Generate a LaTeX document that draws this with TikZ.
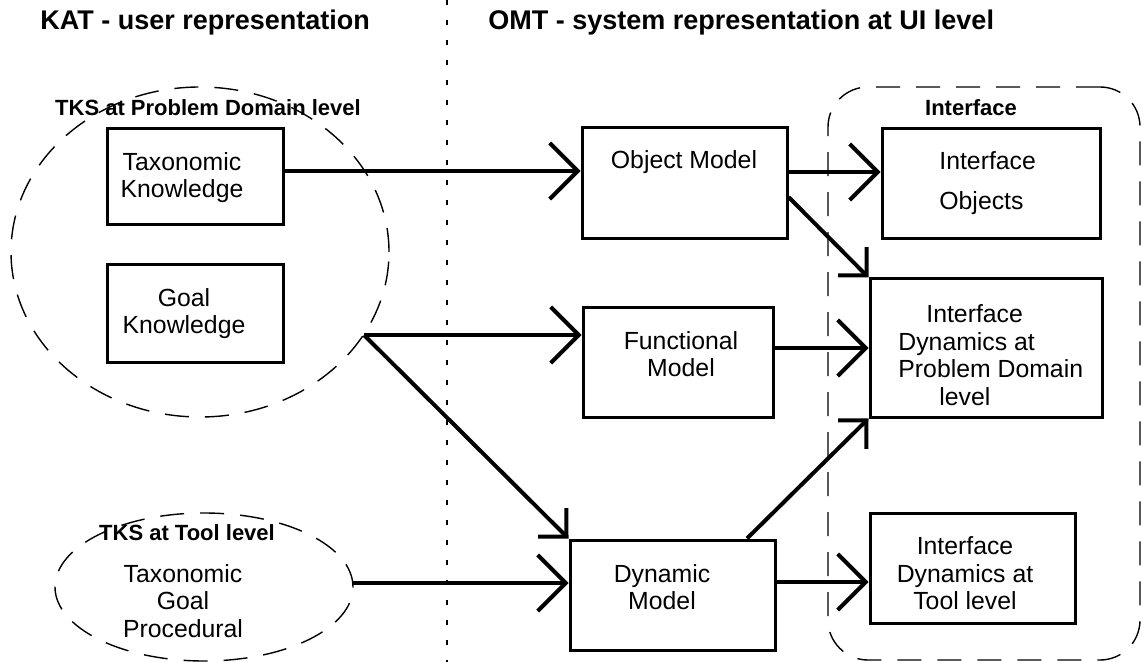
\documentclass[tikz,border=0pt]{standalone}
\usepackage{fontspec}
\setmainfont{Liberation Sans}
\usetikzlibrary{arrows.meta,shapes.geometric,fit}
\begin{document}
\begin{tikzpicture}[x=0.5pt,y=-0.5pt,
  box/.style={draw, line width=1.5pt, inner sep=0pt},
  txt/.style={font=\fontsize{12.4pt}{13.8pt}\selectfont, align=center, inner sep=0pt},
  lbl/.style={font=\bfseries\fontsize{11pt}{13pt}\selectfont, inner sep=0pt},
  ttl/.style={font=\bfseries\fontsize{13.5pt}{15pt}\selectfont, inner sep=0pt, anchor=base west},
  arr/.style={line width=2pt, -{Straight Barb[length=14pt,width=28pt]}},
  arrs/.style={line width=2pt, -{Straight Barb[length=10pt,width=20pt]}},
  dsh/.style={draw, line width=0.7pt, dash pattern=on 12pt off 8pt},
]
\useasboundingbox (0,0) rectangle (1145,662);
% titles
\node[ttl] (kat) at (40,30) {KAT - user representation};
\node[ttl] (omtitle) at (488,30) {OMT - system representation at UI level};
% separator
\coordinate (dtop) at (447,0);
\coordinate (dbot) at (447,662);
\draw[line width=0.6pt, dash pattern=on 2.5pt off 7.5pt] (dtop) -- (dbot);
% left side
\node[dsh, ellipse, minimum width=189pt, minimum height=165pt, inner sep=0pt] (pd) at (200,252) {};
\node[lbl] (pdl) at (208,108) {TKS at Problem Domain level};
\node[box, fit={(107,129) (283,225)}] (tax) {};
\node[txt] (taxt) at (182,177.5) {Taxonomic\\Knowledge};
\node[box, fit={(107,265) (283,363)}] (goal) {};
\node[txt] (goalt) at (184,313.5) {Goal\\Knowledge};
\node[dsh, ellipse, minimum width=149pt, minimum height=74pt, inner sep=0pt] (tl) at (204,587) {};
\node[lbl] (tll) at (187,533) {TKS at Tool level};
\node[txt] (tlt) at (183,601) {Taxonomic\\Goal\\Procedural};
% OMT models
\node[box, fit={(582,128) (787,239)}] (om) {};
\node[txt] (omt) at (684,162) {Object Model};
\node[box, fit={(583,308) (773,417)}] (fm) {};
\node[txt] (fmt) at (681,354) {Functional\\Model};
\node[box, fit={(570,540) (775,650)}] (dyn) {};
\node[txt] (dynt) at (662,587) {Dynamic\\Model};
% interface
\node[dsh, rounded corners=20pt, fit={(828,87) (1140,660)}, inner sep=0pt] (iface) {};
\node[lbl] (ifl) at (971,108) {Interface};
\node[box, fit={(882,129) (1100,239)}] (io) {};
\node[txt, align=left, anchor=west, font=\fontsize{12.4pt}{20pt}\selectfont] (iot) at (939,183) {Interface\\Objects};
\node[box, fit={(870,279) (1102,417)}] (idpd) {};
\node[txt, align=left, anchor=west] (idpdt) at (898,355) {\hspace*{14pt}Interface\\Dynamics at\\Problem Domain\\\hspace*{20.5pt}level};
\node[box, fit={(870,513) (1075,623)}] (idtl) {};
\node[txt] (idtlt) at (965,573.5) {Interface\\Dynamics at\\Tool level};
% connectors
\coordinate (J) at (364,335);
\coordinate (T) at (353,583);
\draw[arr] (tax.east |- 0,171) -- (om.west |- 0,171);
\draw[arr] (J) -- (fm.west |- J);
\draw[arrs] (J) -- (dyn.north west);
\draw[arr] (T) -- (dyn.west |- T);
\draw[arr] (om.east |- 0,172) -- (io.west |- 0,172);
\draw[arrs] (om.east |- 0,197) -- (idpd.north west);
\draw[arr] (fm.east |- 0,348) -- (idpd.west |- 0,348);
\draw[arrs] (dyn.north -| 747,0) -- (idpd.south west);
\draw[arr] (dyn.east |- 0,582) -- (idtl.west |- 0,582);
\end{tikzpicture}
\end{document}
